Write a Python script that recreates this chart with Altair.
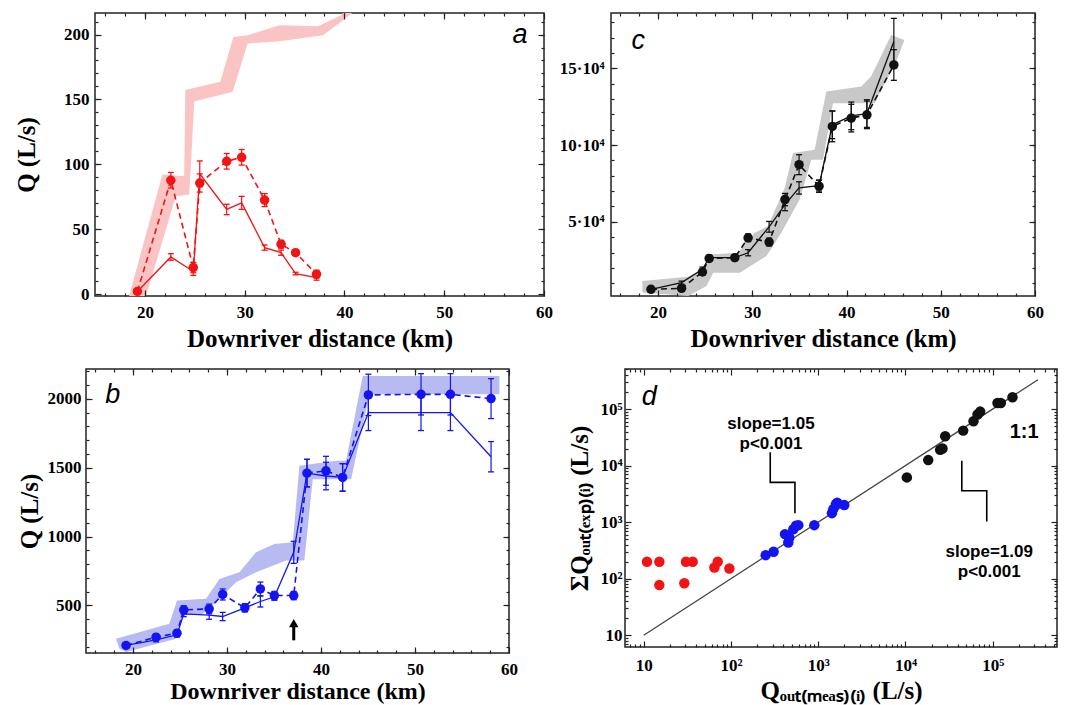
import altair as alt
import pandas as pd

SERIF = "Liberation Serif"
SANS = "Liberation Sans"

# ---------------- panel a (red) ----------------
A_X = [19.25, 22.6, 24.85, 25.5, 28.2, 29.7, 32.0, 33.65, 35.1, 37.2]
A_DASH = [2.0, 87.7, 20.4, 85.6, 102.3, 105.4, 72.4, 38.4, 31.9, 15.3]
A_DASH_ERR = [1.5, 6, 4, 7, 6, 6, 5, 3, 1.5, 3]
A_SOLID = [2.0, 28.6, 17.4, 92.6, 65.2, 70.3, 35.8, 31.9, 15.8, 12.7]
A_SOLID_ERR = [0.5, 2.5, 3, 10, 4, 5, 2, 2, 1, 2]
A_BAND_TOP_X = [18.4, 21.76, 23.94, 24.05, 27.56, 28.87, 30.3, 33.5, 37.34, 39.68, 40.4]
A_BAND_TOP_Y = [-2, 92.1, 90.8, 157.3, 163.7, 198.2, 199.5, 207.2, 206.4, 214.9, 222]
A_BAND_BOT_X = [41.0, 39.87, 37.85, 33.5, 30.3, 28.8, 24.95, 24.45, 23.1, 20.1]
A_BAND_BOT_Y = [218, 211, 199.5, 194.9, 193.1, 156, 148.4, 76.7, 75.4, -2]

# ---------------- panel b (blue) ----------------
B_X = [19.26, 22.45, 24.68, 25.4, 28.1, 29.54, 31.9, 33.55, 35.04, 37.1,
       38.51, 40.53, 42.3, 45.04, 50.64, 53.77, 58.09]
B_DASH = [210, 270, 299, 468, 475, 580, 483, 620, 572, 572,
          1461, 1478, 1430, 2029, 2033, 2033, 2002]
B_DASH_ERR = [20, 25, 25, 30, 35, 40, 30, 50, 30, 30, 100, 105, 100, 150, 150, 150, 145]
B_SOLID = [210, 251, 287, 439, 430, 420, 483, 529, 563, 886,
           1461, 1440, 1430, 1900, 1900, 1900, 1580]
B_SOLID_ERR = [10, 15, 15, 20, 30, 30, 20, 40, 25, 80, 100, 100, 100, 130, 130, 130, 110]
B_BAND_TOP_X = [18.19, 23.87, 24.68, 27.77, 29.19, 31.32, 33.09, 35.04, 37.0, 37.7, 41.6, 42.66, 44.44, 58.98]
B_BAND_TOP_Y = [258, 367, 536, 548, 693, 741, 886, 946, 959, 1514, 1551, 1551, 2167, 2167]
B_BAND_BOT_X = [58.98, 45.15, 43.2, 39.12, 38.23, 36.28, 33.09, 30.96, 29.19, 27.41, 25.29, 24.57, 19.26, 18.55]
B_BAND_BOT_Y = [2033, 2033, 1417, 1417, 826, 826, 741, 669, 548, 439, 428, 258, 162, 186]
B_ARROW_X = [37.1]
B_ARROW_TAIL = [247]
B_ARROW_NECK = [345]
B_ARROW_HEAD = [372]

# ---------------- panel c (black) ----------------
C_X = [19.24, 22.49, 24.71, 25.42, 28.14, 29.55, 31.78, 33.47, 34.96, 37.08,
       38.49, 40.5, 42.16, 45.02]
C_DASH = [6040, 6690, 17340, 26170, 26630, 39610, 36820, 64490, 87220, 73190,
          112150, 117540, 119690, 152150]
C_DASH_ERR = [1000, 1500, 2000, 2000, 2000, 2500, 2500, 4000, 6500, 4000, 10000, 9000, 9000, 10000]
C_SOLID = [6040, 10390, 19030, 26630, 26630, 29870, 46760, 61240, 72080, 73580,
           113190, 119000, 120500, 167500]
C_SOLID_ERR = [500, 1000, 1500, 1500, 1500, 2000, 3500, 4000, 4000, 3500, 9000, 9000, 9000, 15000]
C_BAND_TOP_X = [18.33, 23.2, 24.96, 25.49, 28.5, 30.25, 31.67, 33.43, 34.32, 36.61, 37.85, 41.56, 42.6, 44.74, 46.14]
C_BAND_TOP_Y = [11490, 14290, 20130, 28770, 29870, 42860, 47210, 72080, 94810, 96970, 134880, 138130, 144620, 171640, 168390]
C_BAND_BOT_X = [45.27, 42.97, 41.74, 38.56, 37.5, 36.26, 35.02, 33.08, 31.5, 28.67, 25.85, 25.14, 23.2, 18.33]
C_BAND_BOT_Y = [154360, 127280, 127280, 127280, 90460, 90460, 64490, 42860, 27730, 16880, 16880, 8250, 1750, 3900]

# ---------------- panel d (log-log) ----------------
D_RED_X = [10.9, 15.1, 15.1, 29.2, 30.5, 36.4, 64.6, 70.5, 95.9]
D_RED_Y = [199, 199, 77, 83, 199, 199, 158, 199, 151]
D_BLUE_X = [250, 308, 416, 454, 466, 519, 556, 592, 902, 1436, 1489, 1596, 1991, 1650]
D_BLUE_Y = [261, 299, 614, 437, 536, 751, 863, 885, 885, 1442, 1698, 2084, 2000, 2200]
D_BLACK_X = [10380, 18240, 25000, 26600, 28550, 45900, 60300, 67000, 71900, 113600, 123900, 168700]
D_BLACK_Y = [6180, 12500, 19100, 20100, 32900, 41500, 60600, 80000, 90000, 127700, 127700, 161000]
D_ONE_X = [10, 330000]
D_ONE_Y = [10, 330000]
D_BR1_X = [282, 282, 541, 541]
D_BR1_Y = [17150, 5050, 5050, 1443]
D_BR2_X = [44260, 44260, 85500, 85500]
D_BR2_Y = [12220, 3600, 3600, 1028]
D_TXT_X = [287, 287, 229600, 91200, 91200]
D_TXT_Y = [54300, 24000, 38700, 291, 129]
D_TXT = ["slope=1.05", "p<0.001", "1:1", "slope=1.09", "p<0.001"]
D_TXT_SIZE = [17, 17, 20, 17, 17]

RED, PINK = "#f01414", "#fbc4c4"
BLUE, LBLUE = "#1414f0", "#b8baf2"
BLACK, GREY = "#111111", "#c8c8c8"
FRAME = "#222222"


def series_df(xs, ys, errs):
    return pd.DataFrame({"x": xs, "y": ys,
                         "lo": [y - e for y, e in zip(ys, errs)],
                         "hi": [y + e for y, e in zip(ys, errs)]})


def band_df(tx, ty, bx, by):
    xs = list(tx) + list(bx)
    ys = list(ty) + list(by)
    return pd.DataFrame({"x": xs, "y": ys, "i": list(range(len(xs)))})


def X(xs, field="x"):
    return alt.X(f"{field}:Q", scale=xs, axis=None)


def Y(ys, field="y"):
    return alt.Y(f"{field}:Q", scale=ys, axis=None)


def tick_axis(orient, values, size):
    return alt.Axis(orient=orient, values=values, ticks=True, tickSize=size, offset=-size,
                    labels=False, domain=False, grid=False, title=None,
                    tickColor=FRAME, tickWidth=1.2, tickOpacity=1, zindex=2)


def axis_layers(anchor, xs, ys, xmaj, xmin, ymaj, ymin, xaxis, yaxis):
    base = alt.Chart(anchor).mark_point(opacity=0)
    out = [base.encode(x=alt.X("x:Q", scale=xs, axis=xaxis),
                       y=alt.Y("y:Q", scale=ys, axis=yaxis))]
    for ox, oy in [("bottom", "left"), ("top", "right")]:
        for vx, vy, s in [(xmaj, ymaj, 6), (xmin, ymin, 3)]:
            out.append(base.encode(
                x=alt.X("x:Q", scale=xs, axis=tick_axis(ox, vx, s)),
                y=alt.Y("y:Q", scale=ys, axis=tick_axis(oy, vy, s))))
    return out


def lab_axis(orient, values, title, pad, tpad, tsize, labelExpr=None):
    kw = dict(orient=orient, values=values, ticks=False, domain=False, grid=False,
              labelFont=SERIF, labelFontWeight="bold", labelFontSize=17,
              labelColor="black", labelPadding=pad, labelFlush=False, format="d")
    if labelExpr is not None:
        kw["labelExpr"] = labelExpr
    if title is not None:
        kw.update(title=title, titleFont=SERIF, titleFontWeight="bold",
                  titleFontSize=tsize, titleColor="black", titlePadding=tpad)
    else:
        kw["title"] = None
    return alt.Axis(**kw)


def data_panel(xs, ys, xv, dash, dash_err, solid, solid_err, band, col, bandcol):
    d_dash = series_df(xv, dash, dash_err)
    d_solid = series_df(xv, solid, solid_err)
    layers = [
        alt.Chart(band).mark_line(filled=True, color=bandcol, clip=True).encode(
            x=X(xs), y=Y(ys), order=alt.Order("i:Q")),
        alt.Chart(d_solid).mark_line(color=col, strokeWidth=1.3).encode(x=X(xs), y=Y(ys)),
        alt.Chart(d_dash).mark_line(color=col, strokeWidth=1.6, strokeDash=[6, 4]).encode(x=X(xs), y=Y(ys)),
    ]
    for d in (d_solid, d_dash):
        layers.append(alt.Chart(d).mark_rule(color=col, strokeWidth=1.2).encode(
            x=X(xs), y=Y(ys, "lo"), y2="hi:Q"))
        for f in ("lo", "hi"):
            layers.append(alt.Chart(d).mark_tick(color=col, orient="horizontal", size=6,
                                                 thickness=1.3, opacity=1).encode(x=X(xs), y=Y(ys, f)))
    layers.append(alt.Chart(d_dash).mark_circle(color=col, size=90, opacity=1).encode(x=X(xs), y=Y(ys)))
    return layers, d_dash


def letter(xs, ys, x, y, t):
    return alt.Chart(pd.DataFrame({"x": [x], "y": [y], "t": [t]})).mark_text(
        font=SANS, fontStyle="italic", fontSize=27, color="black").encode(
        x=X(xs), y=Y(ys), text="t:N")


KM_MAJ = [20, 30, 40, 50, 60]
KM_MIN = list(range(16, 60, 2))

# ---- panel a ----
xa = alt.Scale(domain=[15, 60], nice=False, zero=False)
ya = alt.Scale(domain=[-1.5, 216.6], nice=False, zero=False)
la, anc_a = data_panel(xa, ya, A_X, A_DASH, A_DASH_ERR, A_SOLID, A_SOLID_ERR,
                       band_df(A_BAND_TOP_X, A_BAND_TOP_Y, A_BAND_BOT_X, A_BAND_BOT_Y), RED, PINK)
la.append(letter(xa, ya, 57.6, 200, "a"))
la += axis_layers(anc_a, xa, ya, KM_MAJ, KM_MIN, [0, 50, 100, 150, 200], list(range(10, 216, 10)),
                  lab_axis("bottom", KM_MAJ, "Downriver distance (km)", 8, 6, 25),
                  lab_axis("left", [0, 50, 100, 150, 200], "Q (L/s)", 6, 24, 25))
panel_a = alt.layer(*la).resolve_axis(x="independent", y="independent").properties(width=449, height=283)

# ---- panel c ----
xc = alt.Scale(domain=[15, 60], nice=False, zero=False)
yc = alt.Scale(domain=[1700, 186000], nice=False, zero=False)
lc, anc_c = data_panel(xc, yc, C_X, C_DASH, C_DASH_ERR, C_SOLID, C_SOLID_ERR,
                       band_df(C_BAND_TOP_X, C_BAND_TOP_Y, C_BAND_BOT_X, C_BAND_BOT_Y), BLACK, GREY)
lc.append(letter(xc, yc, 17.9, 167500, "c"))
lc += axis_layers(anc_c, xc, yc, KM_MAJ, KM_MIN, [50000, 100000, 150000], list(range(10000, 186000, 10000)),
                  lab_axis("bottom", KM_MAJ, "Downriver distance (km)", 8, 6, 25),
                  lab_axis("left", [50000, 100000, 150000], None, 7, 0, 0,
                           labelExpr="format(datum.value/10000, 'd') + '·10⁴'"))
panel_c = alt.layer(*lc).resolve_axis(x="independent", y="independent").properties(width=424, height=283)

# ---- panel b ----
xb = alt.Scale(domain=[15, 60], nice=False, zero=False)
yb = alt.Scale(domain=[155, 2217], nice=False, zero=False)
lb, anc_b = data_panel(xb, yb, B_X, B_DASH, B_DASH_ERR, B_SOLID, B_SOLID_ERR,
                       band_df(B_BAND_TOP_X, B_BAND_TOP_Y, B_BAND_BOT_X, B_BAND_BOT_Y), BLUE, LBLUE)
arrow = pd.DataFrame({"x": B_ARROW_X, "y": B_ARROW_TAIL, "y2": B_ARROW_NECK, "h": B_ARROW_HEAD})
lb.append(alt.Chart(arrow).mark_rule(color="black", strokeWidth=3).encode(x=X(xb), y=Y(yb), y2="y2:Q"))
lb.append(alt.Chart(arrow).mark_point(shape="triangle-up", size=90, filled=True, color="black", opacity=1).encode(
    x=X(xb), y=Y(yb, "h")))
lb.append(letter(xb, yb, 17.85, 2025, "b"))
lb += axis_layers(anc_b, xb, yb, KM_MAJ, KM_MIN, [500, 1000, 1500, 2000], list(range(200, 2217, 100)),
                  lab_axis("bottom", KM_MAJ, "Downriver distance (km)", 8, 2, 24),
                  lab_axis("left", [500, 1000, 1500, 2000], "Q (L/s)", 5, 5, 25))
panel_b = alt.layer(*lb).resolve_axis(x="independent", y="independent").properties(width=423, height=284)

# ---- panel d ----
xd = alt.Scale(type="log", domain=[6.1, 546000], nice=False)
yd = alt.Scale(type="log", domain=[6.2, 510000], nice=False)
DEC = [10, 100, 1000, 10000, 100000]
LOG_MIN = [m * 10 ** k for k in range(0, 6) for m in range(2, 10)]
XD_MIN = [v for v in LOG_MIN if 6.1 < v < 546000]
YD_MIN = [v for v in LOG_MIN if 6.2 < v < 510000]
POW = ("datum.value < 50 ? '10' : datum.value < 500 ? '10²' : datum.value < 5000 ? '10³' : "
       "datum.value < 50000 ? '10⁴' : '10⁵'")
d_red = pd.DataFrame({"x": D_RED_X, "y": D_RED_Y})
d_blue = pd.DataFrame({"x": D_BLUE_X, "y": D_BLUE_Y})
d_black = pd.DataFrame({"x": D_BLACK_X, "y": D_BLACK_Y})
d_one = pd.DataFrame({"x": D_ONE_X, "y": D_ONE_Y})
d_br = pd.DataFrame({"x": D_BR1_X + D_BR2_X, "y": D_BR1_Y + D_BR2_Y,
                     "g": ["a"] * 4 + ["b"] * 4, "i": list(range(4)) * 2})
d_txt = pd.DataFrame({"x": D_TXT_X, "y": D_TXT_Y, "t": D_TXT, "s": D_TXT_SIZE})
ld = [
    alt.Chart(d_one).mark_line(color="#444444", strokeWidth=1.3).encode(x=X(xd), y=Y(yd)),
    alt.Chart(d_br).mark_line(color="black", strokeWidth=1.6).encode(
        x=X(xd), y=Y(yd), detail="g:N", order=alt.Order("i:Q")),
    alt.Chart(d_red).mark_circle(color=RED, size=110, opacity=1).encode(x=X(xd), y=Y(yd)),
    alt.Chart(d_blue).mark_circle(color=BLUE, size=110, opacity=1).encode(x=X(xd), y=Y(yd)),
    alt.Chart(d_black).mark_circle(color=BLACK, size=110, opacity=1).encode(x=X(xd), y=Y(yd)),
    alt.Chart(d_txt).mark_text(font=SANS, fontWeight="bold", color="black").encode(
        x=X(xd), y=Y(yd), text="t:N", size=alt.Size("s:Q", scale=None, legend=None)),
    letter(xd, yd, 11.6, 161000, "d"),
]
ld += axis_layers(d_black, xd, yd, DEC, XD_MIN, DEC, YD_MIN,
                  lab_axis("bottom", DEC, "Qₒᵤₜ₍ₘₑₐₛ₎₍ᵢ₎    (L/s)", 10, 5, 25, labelExpr=POW),
                  lab_axis("left", DEC, "ΣQₒᵤₜ₍ₑₓₚ₎₍ᵢ₎    (L/s)", 3, 7, 25, labelExpr=POW))
panel_d = alt.layer(*ld).resolve_axis(x="independent", y="independent").properties(width=432, height=278)

SPACER = [0]
spacer = alt.Chart(pd.DataFrame({"x": SPACER, "y": SPACER})).mark_point(opacity=0).encode(
    x=alt.X("x:Q", axis=None), y=alt.Y("y:Q", axis=None)
).properties(width=9, height=10, view=alt.ViewBackground(stroke="transparent"))

row1 = alt.hconcat(spacer, alt.hconcat(panel_a, panel_c, spacing=67, bounds="flush"),
                   spacing=0, bounds="flush")
row2 = alt.hconcat(panel_b, panel_d, spacing=116, bounds="flush")
chart = alt.vconcat(row1, row2, spacing=15).properties(
    padding={"left": 5, "top": 3, "right": 5, "bottom": 5}
).configure_view(stroke=FRAME, strokeWidth=1.5)

chart.save("out.html", embed_options={"renderer": "svg", "actions": False})
